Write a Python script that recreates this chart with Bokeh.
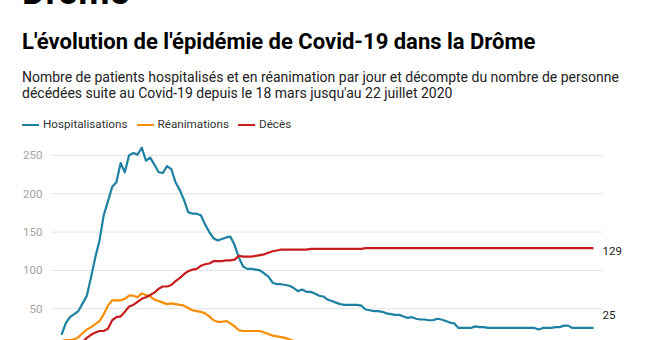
from bokeh.plotting import figure
from bokeh.layouts import column
from bokeh.models import Range1d, FixedTicker, Label, Div
from bokeh.embed import file_html
from bokeh.resources import INLINE

# Daily values from 18 March (day 0) to 22 July 2020 (day 126)
hosp = [16, 31, 39, 43, 47, 57, 67, 91, 117, 139,
        172, 190, 209, 215, 240, 228, 250, 253, 251, 260,
        243, 247, 238, 228, 227, 236, 232, 215, 205, 192,
        176, 174, 174, 172, 160, 150, 142, 139, 141, 143,
        144, 133, 117, 105, 102, 102, 101, 100, 96, 92,
        84, 82, 82, 81, 80, 77, 73, 75, 72, 72,
        70, 67, 66, 62, 60, 58, 56, 55, 55, 55,
        55, 54, 49, 48, 47, 47, 46, 44, 43, 42,
        42, 40, 38, 39, 37, 36, 36, 35, 35, 37,
        36, 34, 32, 31, 25, 25, 25, 25, 27, 26,
        26, 25, 25, 25, 25, 25, 25, 25, 25, 25,
        25, 25, 25, 23, 25, 25, 25, 26, 26, 28,
        28, 25, 25, 25, 25, 25, 25]

rea = [8, 9, 9, 10, 13, 18, 23, 26, 30, 34,
       43, 54, 61, 61, 61, 63, 67, 67, 65, 70,
       68, 66, 62, 60, 58, 56, 57, 56, 55, 54,
       51, 48, 47, 46, 44, 40, 35, 33, 33, 34,
       31, 27, 22, 21, 21, 21, 21, 21, 19, 17,
       15, 14, 13, 12, 10, 8, 7, 7, 6, 6,
       6, 5, 5, 5, 5, 4, 4, 4, 4, 4,
       4, 3, 3, 3, 3, 3, 3, 3, 3, 3,
       3, 3, 3, 3, 2, 2, 2, 2, 2, 2,
       2, 2, 2, 2, 2, 2, 2, 2, 2, 2,
       2, 2, 2, 2, 2, 2, 1, 1, 1, 1,
       1, 1, 1, 1, 1, 1, 1, 1, 1, 1,
       1, 1, 1, 1, 1, 1, 1]

deces = [1, 2, 3, 4, 5, 7, 12, 16, 19, 21,
         21, 24, 35, 39, 40, 46, 53, 55, 59, 63,
         65, 68, 71, 76, 79, 79, 81, 86, 90, 95,
         99, 101, 102, 106, 108, 109, 112, 112, 112, 113,
         113, 114, 119, 118, 118, 118, 119, 120, 121, 123,
         125, 126, 127, 127, 127, 127, 127, 127, 127, 128,
         128, 128, 128, 128, 128, 128, 128, 128, 128, 128,
         128, 128, 129, 129, 129, 129, 129, 129, 129, 129,
         129, 129, 129, 129, 129, 129, 129, 129, 129, 129,
         129, 129, 129, 129, 129, 129, 129, 129, 129, 129,
         129, 129, 129, 129, 129, 129, 129, 129, 129, 129,
         129, 129, 129, 129, 129, 129, 129, 129, 129, 129,
         129, 129, 129, 129, 129, 129, 129]

days = list(range(len(hosp)))
series_names = ["Hospitalisations", "Réanimations", "Décès"]
y_ticks = [0, 50, 100, 150, 200, 250]

BLUE, ORANGE, RED = "#1d81a2", "#fa8c00", "#c71e1d"
colors = [BLUE, ORANGE, RED]
FONT = "Roboto"

# ---------- header (kicker, title, subtitle, legend) ----------
legend_html = "".join(
    f'<span style="display:inline-block;width:17px;height:0;border-top:2px solid {c};'
    f'vertical-align:middle;margin-right:4px;"></span>'
    f'<span style="margin-right:9px;">{n}</span>'
    for n, c in zip(series_names, colors))

header_html = f"""
<div style="position:relative;width:661px;height:140px;overflow:hidden;font-family:Roboto;">
  <div style="position:absolute;left:22px;top:-26px;font-size:36px;line-height:36px;font-weight:bold;color:#000;white-space:nowrap;">Drôme</div>
  <div style="position:absolute;left:22px;top:31px;font-size:22px;line-height:22px;font-weight:bold;color:#000;white-space:nowrap;">L'évolution de l'épidémie de Covid-19 dans la Drôme</div>
  <div style="position:absolute;left:22px;top:69px;font-size:14px;line-height:16px;color:#222;white-space:nowrap;">Nombre de patients hospitalisés et en réanimation par jour et décompte du nombre de personne<br>décédées suite au Covid-19 depuis le 18 mars jusqu'au 22 juillet 2020</div>
  <div style="position:absolute;left:22px;top:117px;font-size:11.7px;line-height:14px;color:#333;white-space:nowrap;">{legend_html}</div>
</div>
"""
header = Div(text=header_html, width=661, height=140, margin=0)

# ---------- chart ----------
X_START = -2.37
GRID_END = 128.1
p = figure(width=661, height=200, output_backend="svg", toolbar_location=None,
           x_range=Range1d(X_START, 142.1), y_range=Range1d(8.6, 269.4),
           x_axis_location=None, margin=0,
           min_border_left=51, min_border_right=0, min_border_top=0, min_border_bottom=0)
p.outline_line_color = None
p.background_fill_color = "white"
p.border_fill_color = "white"
p.xgrid.visible = False
p.ygrid.visible = False
p.yaxis.ticker = FixedTicker(ticks=y_ticks)
p.yaxis.axis_line_color = None
p.yaxis.major_tick_line_color = None
p.yaxis.minor_tick_line_color = None
p.yaxis.major_label_standoff = 3
p.yaxis.major_label_text_font = FONT
p.yaxis.major_label_text_font_size = "11.5px"
p.yaxis.major_label_text_color = "#a3a3a3"

# horizontal gridlines at the tick values, stopping before the end labels
p.segment(x0=[X_START] * len(y_ticks), y0=y_ticks,
          x1=[GRID_END] * len(y_ticks), y1=y_ticks,
          line_color="#e3e3e3", line_width=1)

for vals, c in zip([hosp, rea, deces], colors):
    p.line(days, vals, line_color=c, line_width=2.2, line_join="round")

p.add_layout(Label(x=days[-1], y=deces[-1], text=str(deces[-1]), x_offset=9, y_offset=-3,
                   text_baseline="middle", text_font=FONT, text_font_size="11.5px",
                   text_color="#222222"))
p.add_layout(Label(x=days[-1], y=hosp[-1], text=str(hosp[-1]), x_offset=9, y_offset=13,
                   text_baseline="middle", text_font=FONT, text_font_size="11.5px",
                   text_color="#222222"))

layout = column(header, p, spacing=0, margin=0)
open("out.html", "w").write(file_html(layout, INLINE))
